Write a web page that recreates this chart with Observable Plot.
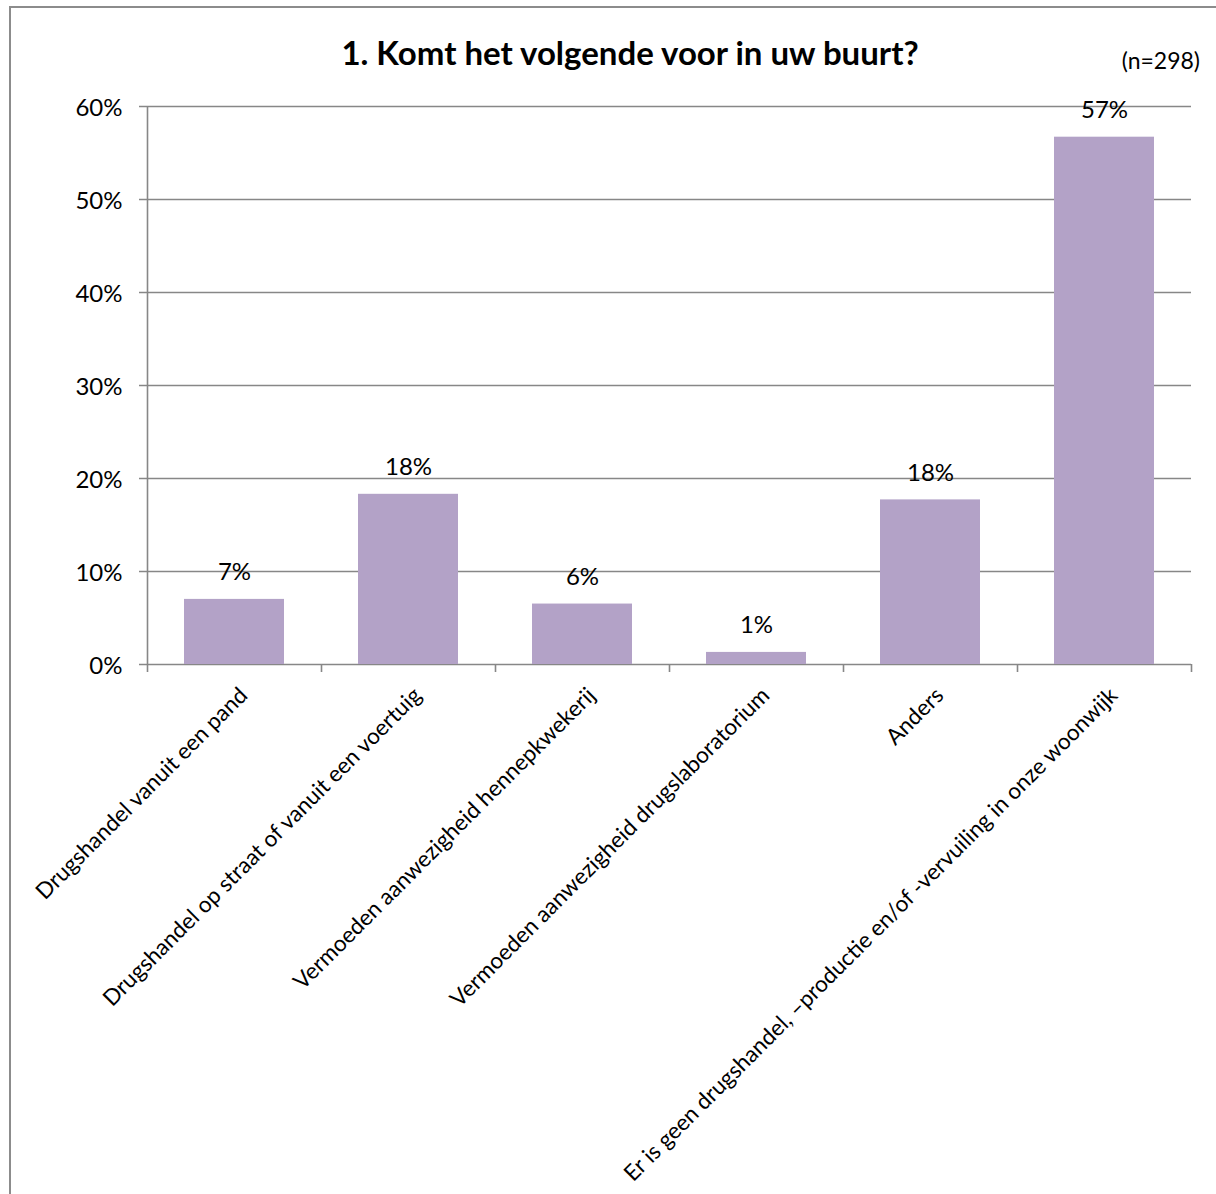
<!DOCTYPE html>
<html>
<head>
<meta charset="utf-8">
<script src="https://cdn.jsdelivr.net/npm/d3@7"></script>
<script src="https://cdn.jsdelivr.net/npm/@observablehq/plot@0.6"></script>
<style>
  html, body { margin: 0; padding: 0; background: #fff; }
  #wrap { position: relative; width: 1216px; height: 1194px; overflow: hidden; font-family: Lato, "Open Sans", sans-serif; }
  #border { position: absolute; left: 9px; top: 6px; width: 1300px; height: 1300px; border-left: 2px solid #8c8c8c; border-top: 2px solid #8c8c8c; box-sizing: border-box; }
  #title { position: absolute; left: 0; width: 1260px; top: 36px; text-align: center; font-weight: bold; font-size: 33px; line-height: 1; color: #000; }
  #n { position: absolute; right: 16px; top: 49px; font-size: 23px; line-height: 1; color: #000; }
  #chart { position: absolute; left: 0; top: 0; }
</style>
</head>
<body>
<div id="wrap">
  <div id="border"></div>
  <div id="chart"></div>
  <div id="title">1. Komt het volgende voor in uw buurt?</div>
  <div id="n">(n=298)</div>
</div>
<script>
const categories = [
  "Drugshandel vanuit een pand",
  "Drugshandel op straat of vanuit een voertuig",
  "Vermoeden aanwezigheid hennepkwekerij",
  "Vermoeden aanwezigheid drugslaboratorium",
  "Anders",
  "Er is geen drugshandel, \u2013productie en/of -vervuiling in onze woonwijk"
];
const values = [0.070, 0.183, 0.065, 0.013, 0.177, 0.567];
const valueLabels = ["7%", "18%", "6%", "1%", "18%", "57%"];
const yTicks = [0, 0.1, 0.2, 0.3, 0.4, 0.5, 0.6];

const W = 1216, H = 1194;
const mL = 147, mR = 25, mT = 106, mB = 530;
const step = (W - mL - mR) / categories.length;
const pxPerUnit = (H - mT - mB) / 0.6;
const tickLen = 8 / pxPerUnit;

const data = categories.map((c, i) => ({cat: c, value: values[i], label: valueLabels[i]}));
const gridColor = "#878787";
const font = "Lato, 'Open Sans', sans-serif";

const chart = Plot.plot({
  width: W,
  height: H,
  marginLeft: mL,
  marginRight: mR,
  marginTop: mT,
  marginBottom: mB,
  style: {fontFamily: font, background: "transparent", overflow: "visible"},
  x: {domain: categories, paddingInner: 0.425, paddingOuter: 0.2125, axis: null},
  y: {domain: [0, 0.6], axis: null},
  marks: [
    Plot.ruleY(yTicks, {stroke: gridColor, strokeWidth: 1.6, insetLeft: -8}),
    Plot.barY(data, {x: "cat", y: "value", fill: "#b3a2c7"}),
    Plot.ruleX([categories[0]], {dx: -step / 2, y1: 0, y2: 0.6, stroke: gridColor, strokeWidth: 1.6}),
    Plot.ruleX(categories, {dx: -step / 2, y1: 0, y2: -tickLen, stroke: gridColor, strokeWidth: 1.6}),
    Plot.ruleX([categories[categories.length - 1]], {dx: step / 2, y1: 0, y2: -tickLen, stroke: gridColor, strokeWidth: 1.6}),
    Plot.text(data, {x: "cat", y: "value", text: "label", dy: -19, lineAnchor: "bottom", fontSize: 24, fill: "#000"}),
    Plot.text(yTicks, {y: d => d, frameAnchor: "left", textAnchor: "end", dx: -25, dy: 2, lineAnchor: "middle", text: d => d3.format(".0%")(d), fontSize: 24, fill: "#000"}),
    Plot.text(categories, {x: d => d, y: 0, dx: 3, dy: 21, text: d => d, rotate: -45, textAnchor: "end", lineAnchor: "top", fontSize: 22.5, fill: "#000"})
  ]
});
document.getElementById("chart").appendChild(chart);
</script>
</body>
</html>
